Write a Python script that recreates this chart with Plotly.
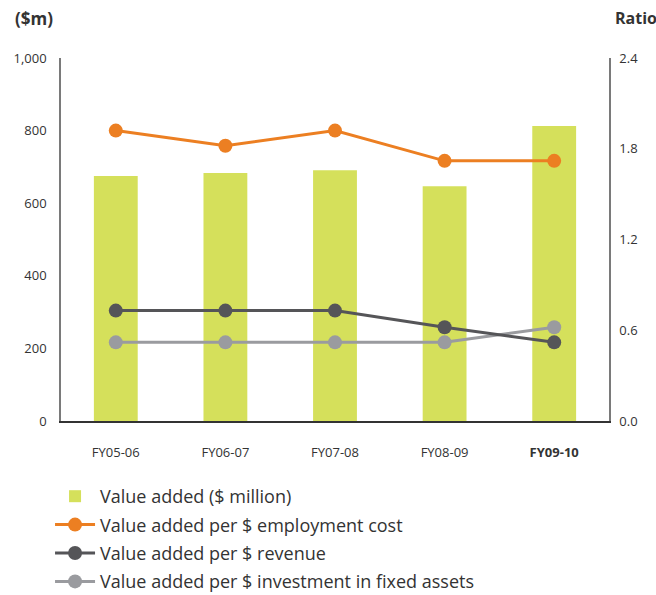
import plotly.graph_objects as go

# Financial years
categories = ["FY05-06", "FY06-07", "FY07-08", "FY08-09", "FY09-10"]
tick_labels = ["FY05-06", "FY06-07", "FY07-08", "FY08-09", "<b>FY09-10</b>"]

# Value added ($ million)
value_added = [675, 683, 691, 647, 813]

# Ratios (right axis)
per_employment_cost = [1.92, 1.82, 1.92, 1.72, 1.72]
per_revenue = [0.73, 0.73, 0.73, 0.62, 0.52]
per_fixed_assets = [0.52, 0.52, 0.52, 0.52, 0.62]

FONT = "'Open Sans', sans-serif"
TEXT = "#333333"

fig = go.Figure()

fig.add_trace(go.Bar(
    x=categories, y=value_added, name="Value added ($ million)",
    marker=dict(color="#D5E05B", line=dict(width=0)),
    width=0.4, legendgroup="a", legendrank=1,
))

fig.add_trace(go.Scatter(
    x=categories, y=per_fixed_assets, yaxis="y2", mode="lines+markers",
    name="Value added per $ investment in fixed assets",
    line=dict(color="#9A9B9F", width=3),
    marker=dict(size=14, color="#9A9B9F"),
    legendgroup="d", legendrank=4,
))

fig.add_trace(go.Scatter(
    x=categories, y=per_revenue, yaxis="y2", mode="lines+markers",
    name="Value added per $ revenue",
    line=dict(color="#555558", width=3),
    marker=dict(size=14, color="#555558"),
    legendgroup="c", legendrank=3,
))

fig.add_trace(go.Scatter(
    x=categories, y=per_employment_cost, yaxis="y2", mode="lines+markers",
    name="Value added per $ employment cost",
    line=dict(color="#EC7F22", width=3),
    marker=dict(size=14, color="#EC7F22"),
    legendgroup="b", legendrank=2,
))

fig.update_layout(
    width=656, height=595,
    margin=dict(l=61, r=47, t=58, b=174, autoexpand=False),
    paper_bgcolor="white", plot_bgcolor="white",
    font=dict(family=FONT, color=TEXT, size=13),
    bargap=0.6,
    showlegend=True,
    legend=dict(
        orientation="v", x=-0.02, y=-0.157, xanchor="left", yanchor="top",
        font=dict(size=18, color=TEXT, family=FONT),
        tracegroupgap=2, itemwidth=40,
        bgcolor="rgba(0,0,0,0)",
    ),
    xaxis=dict(
        tickmode="array", tickvals=categories, ticktext=tick_labels,
        showline=True, linecolor="#333333", linewidth=2,
        ticks="", showgrid=False, ticklabelstandoff=18,
        tickfont=dict(size=13, color=TEXT),
    ),
    yaxis=dict(
        range=[0, 1000], tickvals=[0, 200, 400, 600, 800, 1000],
        tickformat=",", showgrid=False, zeroline=False,
        showline=True, linecolor="#7a7a7a", linewidth=1.5,
        ticks="", ticklabelstandoff=10,
        tickfont=dict(size=13, color=TEXT),
    ),
    yaxis2=dict(
        range=[0, 2.4], tickvals=[0, 0.6, 1.2, 1.8, 2.4],
        tickformat=".1f", overlaying="y", side="right",
        showgrid=False, zeroline=False,
        showline=True, linecolor="#7a7a7a", linewidth=1.5,
        ticks="", ticklabelstandoff=6,
        tickfont=dict(size=13, color=TEXT),
    ),
    annotations=[
        dict(text="<b>($m)</b>", xref="paper", yref="paper", x=-0.087, y=1.11,
             xanchor="left", yanchor="middle", showarrow=False,
             font=dict(size=17, color=TEXT, family=FONT)),
        dict(text="<b>Ratio</b>", xref="paper", yref="paper", x=1.008, y=1.11,
             xanchor="left", yanchor="middle", showarrow=False,
             font=dict(size=16, color=TEXT, family=FONT)),
    ],
)

fig.write_html("out.html")
